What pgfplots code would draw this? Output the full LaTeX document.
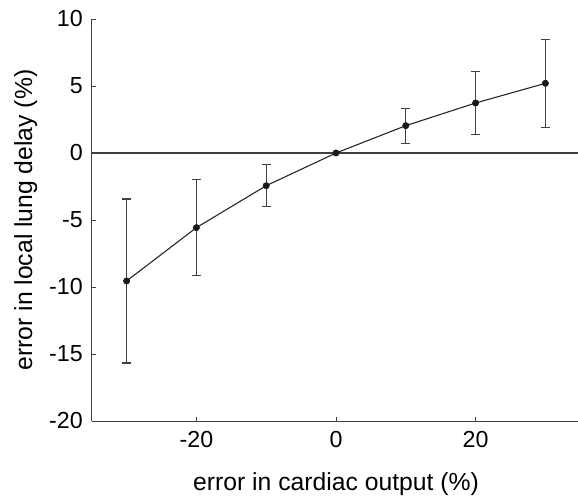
\documentclass[border=0pt]{standalone}
\usepackage{pgfplots}
\pgfplotsset{compat=1.18}
\usepackage{fontspec}
\setmainfont{Liberation Sans}
\definecolor{axgray}{HTML}{404040}
\begin{document}
\fontsize{23.5}{28}\selectfont
\begin{tikzpicture}
\useasboundingbox (-91.7bp,-76bp) rectangle (486.3bp,421bp);
\begin{axis}[
  at={(0,0)}, anchor=south west,
  scale only axis,
  width=488.6bp, height=402bp,
  xmin=-35, xmax=35, ymin=-20, ymax=10,
  axis lines*=left,
  axis line style={axgray, line width=1pt},
  xtick={-20,0,20}, ytick={-20,-15,-10,-5,0,5,10},
  tick align=inside,
  major tick length=4pt,
  tick style={axgray, line width=0.8pt},
  /pgf/number format/assume math mode=true,
  ticklabel style={font=\fontsize{23.3}{28}\selectfont},
  xticklabel style={yshift=-2pt},
  yticklabel style={xshift=-1pt},
  label style={font=\fontsize{24.8}{29}\selectfont},
  xlabel={error in cardiac output (\%)},
  ylabel={error in local lung delay (\%)},
  xlabel style={at={(axis description cs:0.5,0)}, anchor=center, yshift=-63bp},
  ylabel style={at={(axis description cs:-0.1351,0.5)}, anchor=center, rotate=0},
  clip=false,
]
\addplot[axgray, line width=1.1pt, forget plot] coordinates {(-35,0) (35,0)};
\addplot[
  black!85, line width=1.1pt,
  mark=*, mark size=3.2pt, mark options={fill=black!90, draw=black!90, line width=0.5pt},
  error bars/.cd, y dir=both, y explicit,
  error bar style={axgray, line width=1.1pt},
  error mark options={rotate=90, mark size=4.4pt, axgray, line width=1.1pt},
] coordinates {
  (-30,-9.55) +- (0,6.12)
  (-20,-5.57) +- (0,3.58)
  (-10,-2.44) +- (0,1.58)
  (0,0) +- (0,0)
  (10,2.04) +- (0,1.3)
  (20,3.73) +- (0,2.38)
  (30,5.2) +- (0,3.3)
};
\end{axis}
\end{tikzpicture}
\end{document}
